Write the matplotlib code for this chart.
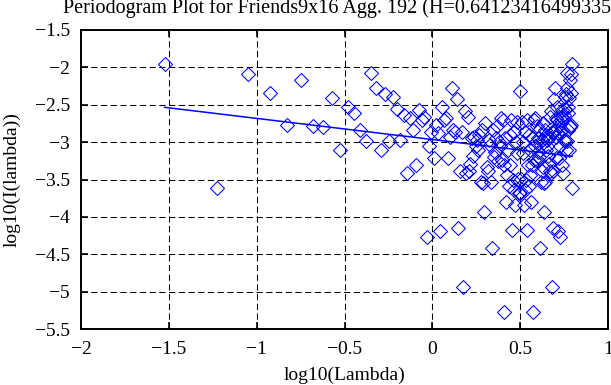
import numpy as np
import matplotlib
matplotlib.use('Agg')
import matplotlib.pyplot as plt
from matplotlib.ticker import FuncFormatter

# periodogram of the aggregated series, frequencies 2*pi*k/N, k = 1..N-1
n_series = 210
hurst = 0.64123416499335
fit_intercept = -2.965

log_periodogram = [
    -1.95, -3.62, -2.09, -2.34, -2.77, -2.17, -2.79, -2.80, -2.41, -3.11,
    -2.53, -2.61, -2.84, -2.99, -2.07, -2.27, -3.11, -2.36, -2.99, -2.39,
    -2.56, -2.97, -2.64, -3.41, -2.68, -2.84, -3.30, -2.57, -2.70, -2.66,
    -4.27, -3.05, -2.86, -3.21, -2.77, -2.88, -4.19, -2.53, -2.70, -2.68,
    -3.21, -2.93, -2.27, -2.84, -2.86, -2.42, -4.15, -3.39, -2.86, -4.94,
    -2.58, -3.41, -2.67, -3.39, -3.29, -2.95, -3.19, -2.93, -3.05, -2.97,
    -3.10, -2.90, -3.54, -2.84, -3.55, -3.93, -2.74, -3.33, -3.39, -2.97,
    -3.04, -3.53, -4.41, -2.84, -3.20, -3.13, -2.95, -2.78, -3.25, -3.00,
    -3.05, -2.68, -3.24, -2.70, -5.27, -3.30, -2.95, -3.80, -3.44, -3.10,
    -3.59, -2.90, -3.31, -2.70, -4.18, -3.50, -2.86, -3.64, -3.84, -3.00,
    -3.15, -2.73, -3.49, -3.68, -2.32,
    -3.68, -3.49, -2.73, -3.15, -3.00, -3.84, -3.64, -2.86, -3.50, -4.18,
    -2.70, -3.31, -2.90, -3.59, -3.10, -3.44, -3.80, -2.95, -3.30, -5.27,
    -2.70, -3.24, -2.68, -3.05, -3.00, -3.25, -2.78, -2.95, -3.13, -3.20,
    -2.84, -4.41, -3.53, -3.04, -2.97, -3.39, -3.33, -2.74, -3.93, -3.55,
    -2.84, -3.54, -2.90, -3.10, -2.97, -3.05, -2.93, -3.19, -2.95, -3.29,
    -3.39, -2.67, -3.41, -2.58, -4.94, -2.86, -3.39, -4.15, -2.42, -2.86,
    -2.84, -2.27, -2.93, -3.21, -2.68, -2.70, -2.53, -4.19, -2.88, -2.77,
    -3.21, -2.86, -3.05, -4.27, -2.66, -2.70, -2.57, -3.30, -2.84, -2.68,
    -3.41, -2.64, -2.97, -2.56, -2.39, -2.99, -2.36, -3.11, -2.27, -2.07,
    -2.99, -2.84, -2.61, -2.53, -3.11, -2.41, -2.80, -2.79, -2.17, -2.77,
    -2.34, -2.09, -3.62, -1.95,
]

x_ticks = [-2, -1.5, -1, -0.5, 0, 0.5, 1]
y_ticks = [-5.5, -5, -4.5, -4, -3.5, -3, -2.5, -2, -1.5]

plt.rcParams['font.family'] = ['Liberation Serif', 'DejaVu Serif']
plt.rcParams['lines.scale_dashes'] = False

k = np.arange(1, n_series)
log_lambda = np.log10(2 * np.pi * k / n_series)
fit = fit_intercept + (1 - 2 * hurst) * log_lambda

fig = plt.figure(figsize=(6.11, 3.85), dpi=100)
ax = fig.add_axes([81 / 611, 56 / 385, 527 / 611, 299 / 385])

ax.plot(log_lambda, log_periodogram, linestyle='none', marker='D', markersize=7,
        markerfacecolor='none', markeredgecolor='#0000ff', markeredgewidth=0.75)
ax.plot(log_lambda, fit, color='#0000ff', linewidth=1.1)

ax.set_xlim(-2, 1)
ax.set_ylim(-5.5, -1.5)
ax.set_xticks(x_ticks)
ax.set_yticks(y_ticks)
fmt = FuncFormatter(lambda v, p: ('%g' % v).replace('-', '\u2212'))
ax.xaxis.set_major_formatter(fmt)
ax.yaxis.set_major_formatter(fmt)
ax.tick_params(direction='in', length=5, width=1.2, labelsize=14,
               top=True, right=True, colors='black')
ax.tick_params(axis='x', pad=9)
ax.tick_params(axis='y', pad=8)
for s in ax.spines.values():
    s.set_linewidth(1.4)

ax.grid(True, color='black', linestyle=(0, (4.5, 2.5)), linewidth=0.75)
ax.set_axisbelow(True)

ax.set_xlabel('log10(Lambda)', fontsize=14, labelpad=6)
ax.set_ylabel('log10(I(lambda))', fontsize=14, labelpad=10)
fig.text(63 / 611, 1 - 13.5 / 385, 'Periodogram Plot for Friends9x16 Agg. 192 (H=0.64123416499335)',
         fontsize=14.5, ha='left', va='baseline')

fig.savefig('out.png', dpi=100)
